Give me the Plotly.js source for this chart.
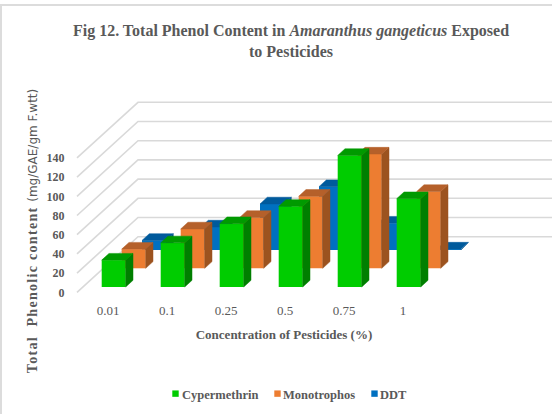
<!DOCTYPE html>
<html>
<head>
<meta charset="utf-8">
<script src="https://cdn.plot.ly/plotly-3.0.1.min.js"></script>
<style>
html,body{margin:0;padding:0;background:#fff;overflow:hidden}
#frame{position:absolute;left:0;top:4px;width:552px;height:410px;box-sizing:border-box;border-top:2px solid #dcdcdc;border-left:2px solid #dcdcdc;pointer-events:none;z-index:5}
</style>
</head>
<body>
<div id="gd" style="width:552px;height:414px"></div>
<div id="frame"></div>
<script>
const categories = ["0.01","0.1","0.25","0.5","0.75","1"];
const cypermethrin = [28,46,66,84,137,92];
const monotrophos = [20,41,53,75,119,80];
const ddt = [10,24,48,66,28,1];
const gridValues = [0,20,40,60,80,100,120,140];

const ppxX = 59, ppxY = 0.96;
const left = 16, right = 552, top_ = 57, bottom = 405, zeroPx = 292.3, tickPx = 108, wallPx = 77;
const xMin = (left-tickPx)/ppxX, xMax = (right-tickPx)/ppxX;
const yMin = -(bottom-zeroPx)/ppxY, yMax = (zeroPx-top_)/ppxY;
const wallX = (wallPx-tickPx)/ppxX;
const wallDx = 61/ppxX, wallDy = 55.6/ppxY, wallEnd = xMax;
const barW = 24/ppxX, barDx = 7.3/ppxX, barDy = 6.7/ppxY;
const textColor = "#595959", serif = "'Liberation Serif', serif";

const series = [
  {name:"DDT", values:ddt, off:34/ppxX, lift:42.3/ppxY, front:"#0070c0", side:"#00508c", top:"#005a9c", rank:3, z:1},
  {name:"Monotrophos", values:monotrophos, off:13.7/ppxX, lift:24/ppxY, front:"#ed7d31", side:"#9c531f", top:"#b5602a", rank:2, z:2},
  {name:"Cypermethrin", values:cypermethrin, off:-6.3/ppxX, lift:5.3/ppxY, front:"#00cc00", side:"#007f00", top:"#009a00", rank:1, z:3}
];

const traces = [];
const gx = [], gy = [];
gridValues.forEach(v => {
  gx.push(wallX, wallX+wallDx, wallEnd, null);
  gy.push(v, v+wallDy, v+wallDy, null);
});
traces.push({type:"scatter",mode:"lines",x:gx,y:gy,line:{color:"#d9d9d9",width:1.6},
  showlegend:false,hoverinfo:"skip",zorder:0});

series.forEach(s => {
  const sx=[],sy=[],tx=[],ty=[];
  s.values.forEach((v,i) => {
    const x0=i+s.off, x1=x0+barW, b=s.lift, h=b+v;
    sx.push(x1,x1+barDx,x1+barDx,x1,x1,null);
    sy.push(b,b+barDy,h+barDy,h,b,null);
    tx.push(x0,x1,x1+barDx,x0+barDx,x0,null);
    ty.push(h,h,h+barDy,h+barDy,h,null);
  });
  const poly=(x,y,c)=>({type:"scatter",mode:"lines",x,y,fill:"toself",fillcolor:c,
    line:{color:c,width:0.5},showlegend:false,hoverinfo:"skip",zorder:s.z});
  traces.push({type:"bar",name:s.name,x:s.values.map((_,i)=>i+s.off+barW/2),y:s.values,
    base:s.values.map(()=>s.lift),width:barW,marker:{color:s.front,line:{width:0}},
    legendrank:s.rank,zorder:s.z});
  traces.push(poly(sx,sy,s.side));
  traces.push(poly(tx,ty,s.top));
});

const layout = {
  width:552,height:414,autosize:false,
  paper_bgcolor:"#fff",plot_bgcolor:"rgba(0,0,0,0)",
  margin:{l:left,r:552-right,t:top_,b:414-bottom,pad:0},
  barmode:"overlay",showlegend:true,
  font:{family:serif,color:textColor},
  title:{text:"<b>Fig 12. Total Phenol Content in <i>Amaranthus gangeticus</i> Exposed<br>to Pesticides</b>",
    font:{family:serif,size:16,color:textColor},x:291/552,xanchor:"center",y:1-36/414,yanchor:"middle"},
  xaxis:{range:[xMin,xMax],anchor:"free",position:(bottom-zeroPx)/(bottom-top_),
    tickmode:"array",tickvals:categories.map((_,i)=>i),ticktext:categories,
    showgrid:false,zeroline:false,showline:false,ticks:"outside",ticklen:6,tickcolor:"rgba(0,0,0,0)",
    tickfont:{family:serif,size:13,color:textColor},
    title:{text:"<b>Concentration of Pesticides (%)</b>",font:{family:serif,size:13,color:textColor},standoff:12}},
  yaxis:{range:[yMin,yMax],anchor:"free",position:(wallPx-left)/(right-left),
    tickmode:"array",tickvals:gridValues,ticktext:gridValues.map(String),
    showgrid:false,zeroline:false,showline:false,ticks:"outside",ticklen:10,tickcolor:"rgba(0,0,0,0)",
    tickfont:{family:serif,size:12,weight:"bold",color:textColor},
    title:{text:"<span style=\"letter-spacing:1.3px\"><b>Total  Phenolic content </b></span><span style=\"font-family:'DejaVu Sans',sans-serif;font-size:12px\">(mg/GAE/gm F.wtt)</span>",
      font:{family:serif,size:14,color:textColor},standoff:4}},
  legend:{orientation:"h",x:(289-left)/(right-left),xanchor:"center",y:(bottom-394)/(bottom-top_),yanchor:"middle",
    traceorder:"normal",itemwidth:30,font:{family:serif,size:12.5,weight:"bold",color:textColor},bgcolor:"rgba(0,0,0,0)"}
};
const swatchCentre = [175.5,277.5,374.5], textStart = [182,283,380];
Plotly.newPlot("gd",traces,layout,{displayModeBar:false,staticPlot:true}).then(gd => {
  const sb = gd.querySelector(".legend .scrollbox");
  if (sb) sb.removeAttribute("clip-path");
  gd.querySelectorAll(".legend .traces").forEach((g,i) => {
    const t = g.querySelector("text"), p = g.querySelector(".legendpoints path");
    const m = g.getCTM(), pm = g.parentNode.getCTM();
    const dx = textStart[i]-t.getBoundingClientRect().left;
    g.setAttribute("transform",`translate(${m.e-pm.e+dx},${m.f-pm.f})`);
    if (p) {
      p.setAttribute("d","M3.2,3.2H-3.2V-3.2H3.2Z");
      const r = p.getBoundingClientRect();
      const cur = /translate\(([-\d.]+)/.exec(p.getAttribute("transform")||"");
      const x0 = cur ? parseFloat(cur[1]) : 0;
      p.setAttribute("transform",`translate(${x0+swatchCentre[i]-(r.left+r.right)/2},0)`);
    }
  });
});
</script>
</body>
</html>
